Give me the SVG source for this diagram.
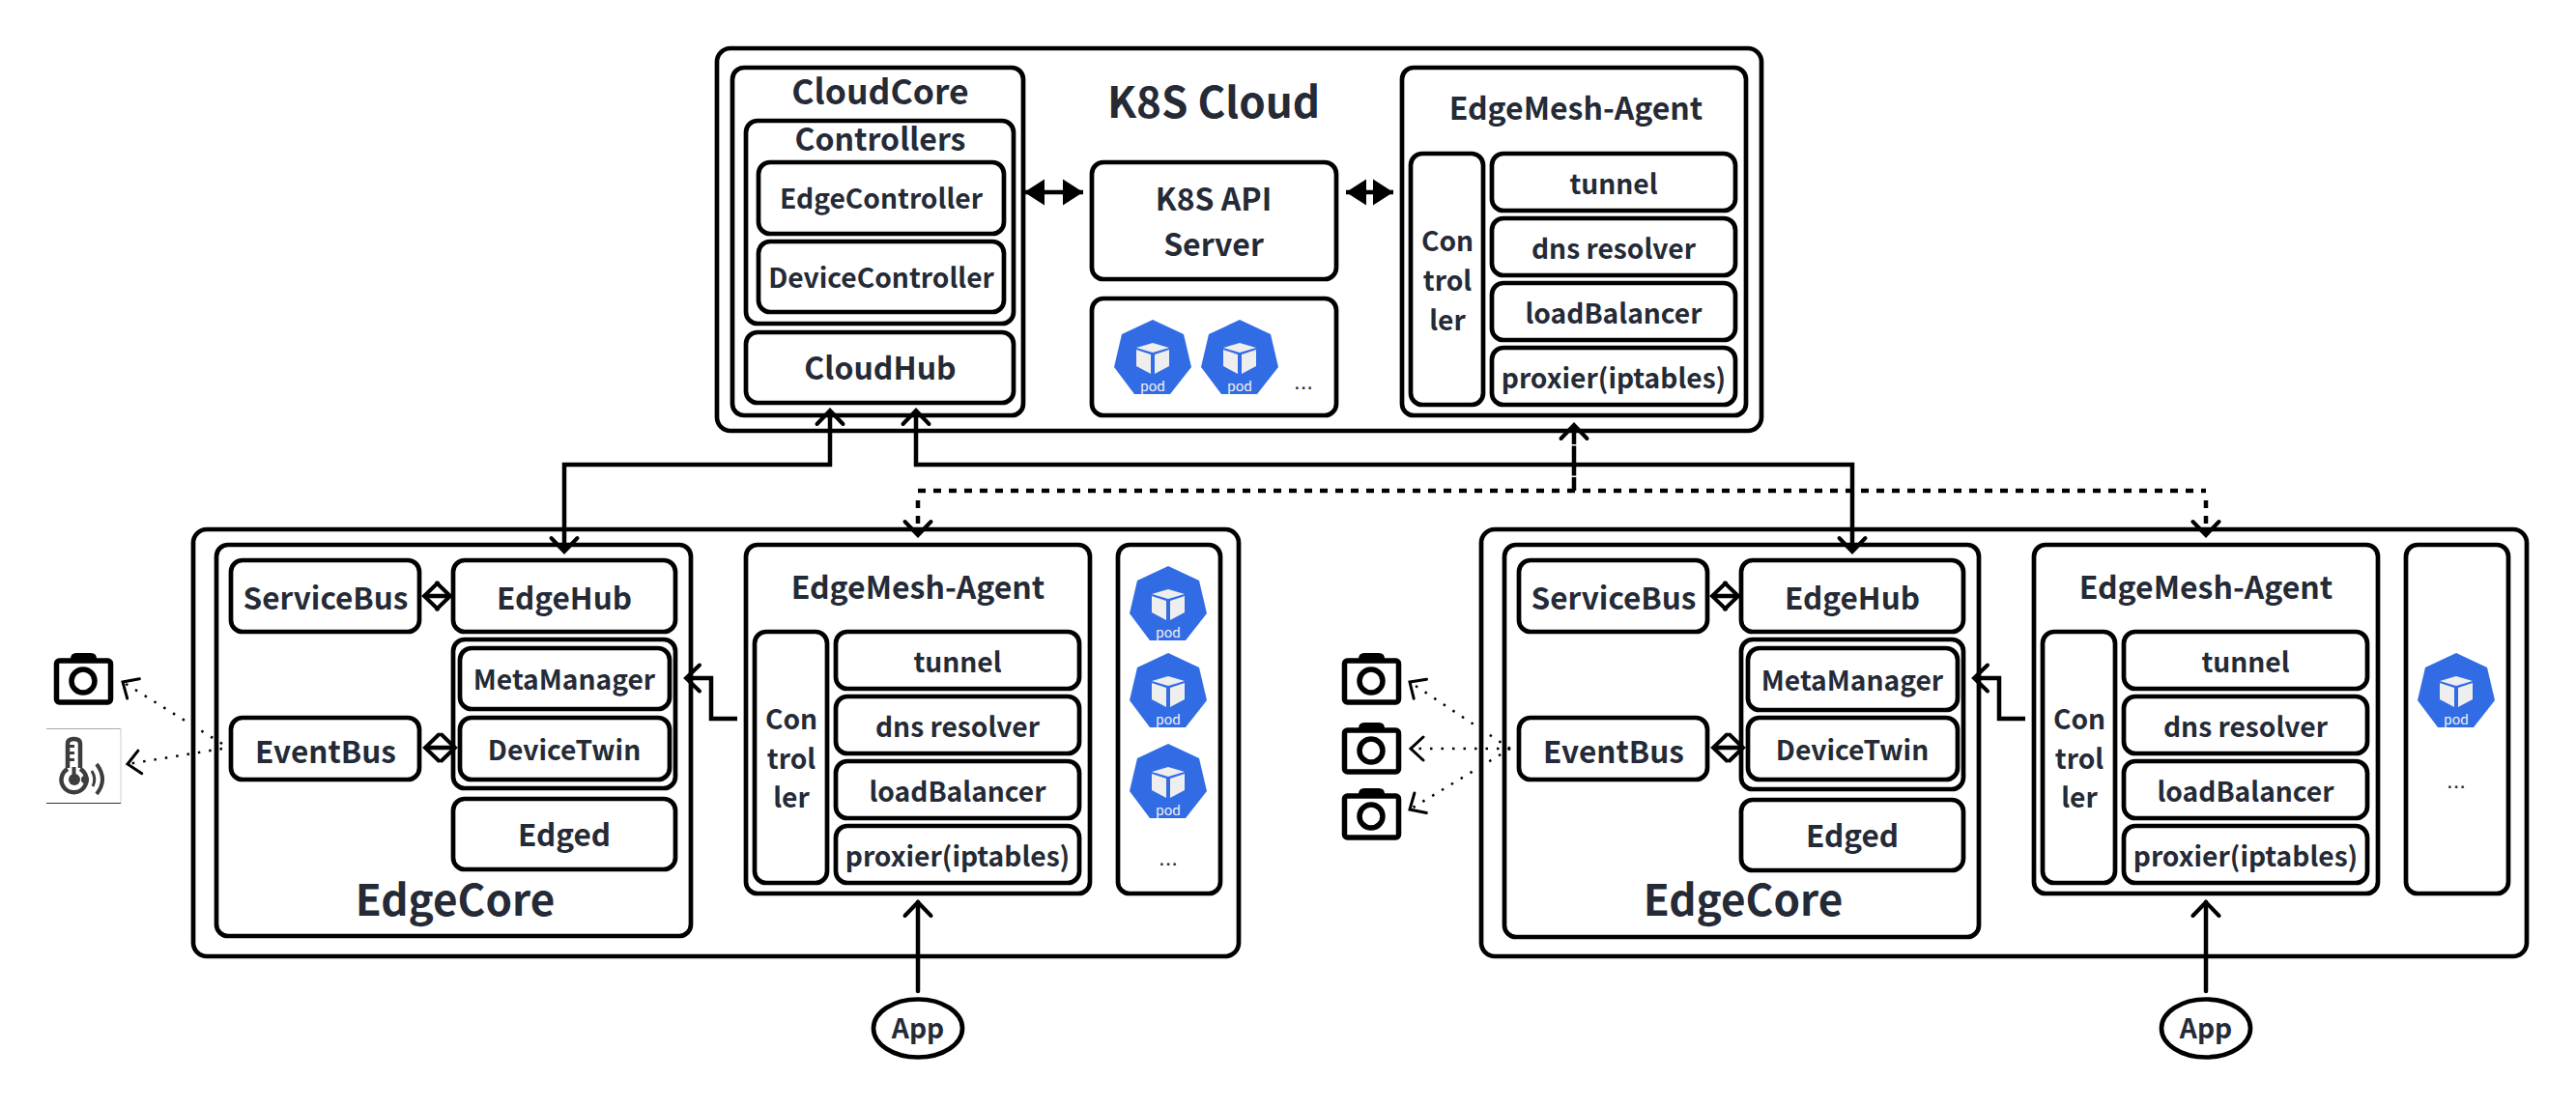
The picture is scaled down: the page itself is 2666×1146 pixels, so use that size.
<svg xmlns="http://www.w3.org/2000/svg" xmlns:xlink="http://www.w3.org/1999/xlink" width="2666" height="1146" viewBox="0 0 2666 1146">
<style>
rect,ellipse{fill:#fff;stroke:#000;stroke-width:4.700}
text{font-family:"Noto Sans CJK SC","Noto Sans",sans-serif;font-weight:700;fill:#242a36;text-anchor:middle;font-size:28.200px}
.s32{font-size:32px}.s33{font-size:31.500px}.s36{font-size:35.500px}.s44{font-size:44px}
.dots{font-family:"Liberation Sans",sans-serif;font-size:24px;font-weight:400}
.c{fill:none;stroke:#000;stroke-width:4.500}
.d{stroke-dasharray:8 8}
.p{fill:none;stroke:#000;stroke-width:2.500;stroke-dasharray:2.500 9}
.podtxt{font-family:Roboto,sans-serif;font-size:15px;font-weight:400;fill:#eee}
</style>
<defs>
<marker id="open" markerUnits="userSpaceOnUse" markerWidth="34" markerHeight="34" refX="17" refY="17" orient="auto-start-reverse"><path d="M3 3.500L17 17L3 30.500" fill="none" stroke="#000" stroke-width="4" stroke-linecap="round"/></marker>
<marker id="thin" markerUnits="userSpaceOnUse" markerWidth="34" markerHeight="34" refX="17" refY="17" orient="auto-start-reverse"><path d="M4 5L17 17L4 29" fill="none" stroke="#000" stroke-width="3" stroke-linecap="round"/></marker>
<marker id="fill" markerUnits="userSpaceOnUse" markerWidth="32" markerHeight="32" refX="22" refY="16" orient="auto-start-reverse"><path d="M1 2.500L22 16L1 29.500z" fill="#000"/></marker>
<g id="pod">
<path d="M1193 331L1225 346L1233 380L1211 408L1174 408L1153 380L1161 346z" fill="#326ce5"/>
<path d="M1193 355L1210 360L1193 365L1176 360z" fill="#eee"/>
<path d="M1176 362L1191 367V387L1176 379z" fill="#eee"/>
<path d="M1210 362L1195 367V387L1210 379z" fill="#eee"/>
<text class="podtxt" x="1193" y="405">pod</text>
</g>
<g id="camera">
<path d="M73 682Q73 676 79 676H94Q100 676 100 682z" fill="#000"/>
<rect x="58.500" y="684" width="56" height="43" rx="3" fill="#fff" style="stroke-width:5.500"/>
<circle cx="86" cy="705" r="12" fill="none" stroke="#000" stroke-width="5.500"/>
</g>
</defs>
<rect width="2666" height="1146" style="fill:#fff;stroke:none"/>

<g id="k8s-cloud">
<rect x="742" y="50" width="1081" height="396" rx="14"/>
<text class="s44" x="1256" y="122">K8S Cloud</text>
</g>
<g id="cloudcore">
<rect x="758" y="70" width="301" height="360" rx="12"/>
<text class="s36" x="911" y="108">CloudCore</text>
</g>
<g id="controllers">
<rect x="772" y="125" width="277" height="210" rx="12"/>
<text class="s32" x="911" y="156">Controllers</text>
</g>
<g id="edgecontroller"><rect x="785" y="168" width="254" height="74" rx="12"/><text x="912" y="216">EdgeController</text></g>
<g id="devicecontroller"><rect x="785" y="250" width="254" height="73" rx="12"/><text x="912" y="298">DeviceController</text></g>
<g id="cloudhub"><rect x="772" y="344" width="277" height="73" rx="12"/><text class="s32" x="911" y="393">CloudHub</text></g>
<g id="k8s-api"><rect x="1130" y="168" width="253" height="121" rx="12"/><text class="s32" x="1256" y="218">K8S API</text><text class="s32" x="1256" y="265">Server</text></g>
<g id="cloud-pods">
<rect x="1130" y="309" width="253" height="121" rx="12"/>
<use xlink:href="#pod"/><use xlink:href="#pod" x="90"/>
<text class="dots" x="1349" y="403">...</text>
</g>
<g id="cloud-agent">
<rect x="1451" y="70" width="356" height="360" rx="12"/>
<text class="s32" x="1631" y="124">EdgeMesh-Agent</text>
<rect x="1460" y="159" width="75" height="260" rx="12"/>
<text x="1498" y="260">Con</text><text x="1498" y="301">trol</text><text x="1498" y="342">ler</text>
<rect x="1544" y="159" width="252" height="59" rx="12"/><text x="1670" y="201">tunnel</text>
<rect x="1544" y="226" width="252" height="59" rx="12"/><text x="1670" y="268">dns resolver</text>
<rect x="1544" y="293" width="252" height="59" rx="12"/><text x="1670" y="335">loadBalancer</text>
<rect x="1544" y="360" width="252" height="59" rx="12"/><text x="1670" y="402">proxier(iptables)</text>
</g>

<g id="edge-left">
<g id="edge1-frame"><rect x="200" y="548" width="1082" height="442" rx="14"/></g>
<g id="edge1-core"><rect x="224" y="564" width="491" height="405" rx="12"/><text class="s44" x="471" y="948">EdgeCore</text></g>
<g id="edge1-servicebus"><rect x="239" y="580" width="195" height="74" rx="12"/><text class="s33" x="337" y="631">ServiceBus</text></g>
<g id="edge1-edgehub"><rect x="469" y="580" width="230" height="74" rx="12"/><text class="s33" x="584" y="631">EdgeHub</text></g>
<g id="edge1-group"><rect x="469" y="662" width="230" height="154" rx="12"/></g>
<g id="edge1-metamanager"><rect x="476" y="671" width="217" height="63" rx="12"/><text x="584" y="714">MetaManager</text></g>
<g id="edge1-devicetwin"><rect x="476" y="743" width="217" height="64" rx="12"/><text x="584" y="787">DeviceTwin</text></g>
<g id="edge1-eventbus"><rect x="239" y="743" width="195" height="64" rx="12"/><text class="s33" x="337" y="790">EventBus</text></g>
<g id="edge1-edged"><rect x="469" y="827" width="230" height="73" rx="12"/><text class="s33" x="584" y="876">Edged</text></g>
<g id="edge1-agent">
<rect x="772" y="564" width="356" height="361" rx="12"/>
<text class="s32" x="950" y="620">EdgeMesh-Agent</text>
<rect x="781" y="654" width="75" height="260" rx="12"/>
<text x="819" y="755">Con</text><text x="819" y="796">trol</text><text x="819" y="836">ler</text>
<rect x="865" y="654" width="252" height="59" rx="12"/><text x="991" y="696">tunnel</text>
<rect x="865" y="721" width="252" height="59" rx="12"/><text x="991" y="763">dns resolver</text>
<rect x="865" y="788" width="252" height="59" rx="12"/><text x="991" y="830">loadBalancer</text>
<rect x="865" y="855" width="252" height="59" rx="12"/><text x="991" y="897">proxier(iptables)</text>
</g>
<g id="edge1-pods">
<rect x="1157" y="564" width="106" height="361" rx="12"/>
<use xlink:href="#pod" x="16" y="255"/><use xlink:href="#pod" x="16" y="345"/><use xlink:href="#pod" x="16" y="439"/>
<text class="dots" x="1209" y="896">...</text>
</g>
<g id="edge1-app"><ellipse cx="950" cy="1064.500" rx="46" ry="30"/><text x="950" y="1075">App</text></g>
</g>

<g id="edge-right">
<g id="edge2-frame"><rect x="1533" y="548" width="1082" height="442" rx="14"/></g>
<g id="edge2-core"><rect x="1557" y="564" width="491" height="406" rx="12"/><text class="s44" x="1804" y="948">EdgeCore</text></g>
<g id="edge2-servicebus"><rect x="1572" y="580" width="195" height="74" rx="12"/><text class="s33" x="1670" y="631">ServiceBus</text></g>
<g id="edge2-edgehub"><rect x="1802" y="580" width="230" height="74" rx="12"/><text class="s33" x="1917" y="631">EdgeHub</text></g>
<g id="edge2-group"><rect x="1802" y="662" width="230" height="155" rx="12"/></g>
<g id="edge2-metamanager"><rect x="1809" y="671" width="217" height="64" rx="12"/><text x="1917" y="715">MetaManager</text></g>
<g id="edge2-devicetwin"><rect x="1809" y="743" width="217" height="64" rx="12"/><text x="1917" y="787">DeviceTwin</text></g>
<g id="edge2-eventbus"><rect x="1572" y="743" width="195" height="64" rx="12"/><text class="s33" x="1670" y="790">EventBus</text></g>
<g id="edge2-edged"><rect x="1802" y="828" width="230" height="73" rx="12"/><text class="s33" x="1917" y="877">Edged</text></g>
<g id="edge2-agent">
<rect x="2105" y="564" width="356" height="361" rx="12"/>
<text class="s32" x="2283" y="620">EdgeMesh-Agent</text>
<rect x="2114" y="654" width="75" height="260" rx="12"/>
<text x="2152" y="755">Con</text><text x="2152" y="796">trol</text><text x="2152" y="836">ler</text>
<rect x="2198" y="654" width="252" height="59" rx="12"/><text x="2324" y="696">tunnel</text>
<rect x="2198" y="721" width="252" height="59" rx="12"/><text x="2324" y="763">dns resolver</text>
<rect x="2198" y="788" width="252" height="59" rx="12"/><text x="2324" y="830">loadBalancer</text>
<rect x="2198" y="855" width="252" height="59" rx="12"/><text x="2324" y="897">proxier(iptables)</text>
</g>
<g id="edge2-pods">
<rect x="2490" y="564" width="106" height="361" rx="12"/>
<use xlink:href="#pod" x="1349" y="345"/>
<text class="dots" x="2542" y="816">...</text>
</g>
<g id="edge2-app"><ellipse cx="2283" cy="1064.500" rx="46" ry="30"/><text x="2283" y="1075">App</text></g>
</g>

<g id="device-camera-1"><use xlink:href="#camera"/></g>
<g id="device-sensor">
<rect x="48" y="754" width="77" height="78" style="fill:#fff;stroke:none"/>
<path d="M48 754.500H125" stroke="#aaa" stroke-width="1" fill="none"/>
<path d="M125 754V832" stroke="#ccc" stroke-width="1" fill="none"/>
<path d="M48 831.500H125" stroke="#333" stroke-width="1" fill="none"/>
<g fill="none" stroke="#3d3d3d" stroke-width="4.500">
<path d="M70 795V770Q70 765 76.500 765Q83 765 83 770V795"/>
<path d="M70 796A13 13 0 1 0 83 796"/>
<path d="M100 791Q112 807 100 822" stroke-width="4"/>
<path d="M95 798Q100 806 96 814" stroke-width="3"/>
</g>
<g fill="#3d3d3d"><circle cx="77" cy="807" r="6"/><rect x="74.500" y="794" width="4" height="12" style="fill:#3d3d3d;stroke:none"/><circle cx="88" cy="807" r="4"/><rect x="72" y="771" width="5" height="3" style="fill:#3d3d3d;stroke:none"/><rect x="72" y="778" width="5" height="3" style="fill:#3d3d3d;stroke:none"/><rect x="72" y="785" width="5" height="3" style="fill:#3d3d3d;stroke:none"/></g>
</g>
<g id="device-camera-2"><use xlink:href="#camera" x="1333"/></g>
<g id="device-camera-3"><use xlink:href="#camera" x="1333" y="72"/></g>
<g id="device-camera-4"><use xlink:href="#camera" x="1333" y="140"/></g>

<g id="connectors">
<path class="c" d="M1060 199H1121" marker-start="url(#fill)" marker-end="url(#fill)"/>
<path class="c" d="M1393 199H1442" marker-start="url(#fill)" marker-end="url(#fill)"/>
<path class="c" d="M859 425V481H584V571" marker-start="url(#open)" marker-end="url(#open)"/>
<path class="c" d="M948 425V481H1917V571" marker-start="url(#open)" marker-end="url(#open)"/>
<path class="c" d="M1629 508V440" style="stroke-dasharray:14 1.500 31 1.500 30" marker-end="url(#open)"/>
<path class="c d" d="M950 508H2283"/>
<path class="c d" d="M950 510V554" style="stroke-dashoffset:8" marker-end="url(#open)"/>
<path class="c d" d="M2283 510V554" style="stroke-dashoffset:8" marker-end="url(#open)"/>
<path class="c" d="M439 617H466" marker-start="url(#open)" marker-end="url(#open)"/>
<path class="c" d="M440 774H471" marker-start="url(#open)" marker-end="url(#open)"/>
<path class="c" d="M1772 617H1799" marker-start="url(#open)" marker-end="url(#open)"/>
<path class="c" d="M1773 774H1804" marker-start="url(#open)" marker-end="url(#open)"/>
<path class="c" d="M763 744H736V702H710" marker-end="url(#open)"/>
<path class="c" d="M2096 744H2069V702H2043" marker-end="url(#open)"/>
<path class="c" stroke-linecap="round" d="M950 1026V934" marker-end="url(#open)"/>
<path class="c" stroke-linecap="round" d="M2283 1026V934" marker-end="url(#open)"/>
<path class="p" d="M230 770L127 706" marker-end="url(#thin)"/>
<path class="p" d="M230 775L132 791" marker-end="url(#thin)"/>
<path class="p" d="M1563 775L1459 706" marker-end="url(#thin)"/>
<path class="p" d="M1563 775L1460 775" marker-end="url(#thin)"/>
<path class="p" d="M1563 775L1459 838" marker-end="url(#thin)"/>
</g>
</svg>
